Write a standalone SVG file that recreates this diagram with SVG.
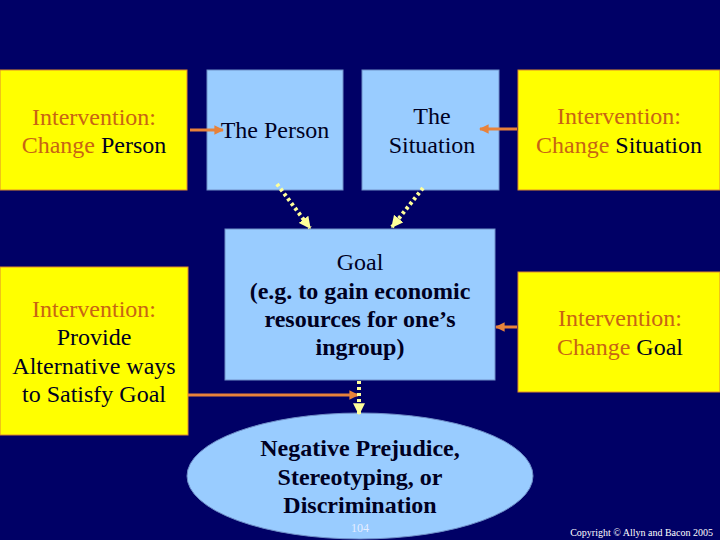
<svg xmlns="http://www.w3.org/2000/svg" width="720" height="540" viewBox="0 0 720 540" font-family="Liberation Serif, DejaVu Serif, serif">
<defs>
<style>
.bg{fill:#000066}
.yb{fill:#FFFF00;stroke:#E08A2C;stroke-width:1}
.bb{fill:#99CCFF;stroke:#6F8FC8;stroke-width:1}
.t{font-family:'Liberation Serif','DejaVu Serif',serif;font-size:24px;text-anchor:middle;fill:#000022}
.or{fill:#C86414}
.bold{font-weight:bold}
.oline{stroke:#E8823A;stroke-width:3;fill:none}
.dline{stroke:#FFFF99;stroke-width:4;stroke-dasharray:3 3;fill:none}
</style>
<marker id="oa" viewBox="0 0 10 10" refX="9" refY="5" markerWidth="3.2" markerHeight="3.2" orient="auto" markerUnits="strokeWidth">
<path d="M0,0 L10,5 L0,10 z" fill="#E8823A"/>
</marker>
<marker id="da" viewBox="0 0 10 10" refX="9" refY="5" markerWidth="3" markerHeight="3" orient="auto" markerUnits="strokeWidth">
<path d="M0,0 L10,5 L0,10 z" fill="#FFFF99"/>
</marker>
</defs>
<rect class="bg" x="0" y="0" width="720" height="540"/>

<g id="changePerson">
<rect class="yb" x="0" y="70" width="187" height="120"/>
<text class="t or" x="94" y="125">Intervention:</text>
<text class="t" x="94" y="153"><tspan class="or">Change</tspan> Person</text>
</g>

<g id="person">
<rect class="bb" x="207" y="70" width="136" height="120"/>
<text class="t" x="275" y="138">The Person</text>
</g>

<g id="situation">
<rect class="bb" x="362" y="70" width="137" height="120"/>
<text class="t" x="432" y="124">The</text>
<text class="t" x="432" y="153">Situation</text>
</g>

<g id="changeSituation">
<rect class="yb" x="518" y="70" width="202" height="120"/>
<text class="t or" x="619" y="124">Intervention:</text>
<text class="t" x="619" y="153"><tspan class="or">Change</tspan> Situation</text>
</g>

<g id="goal">
<rect class="bb" x="225" y="229" width="270" height="151"/>
<text class="t" x="360" y="270">Goal</text>
<text class="t bold" x="360" y="299">(e.g. to gain economic</text>
<text class="t bold" x="360" y="327">resources for one’s</text>
<text class="t bold" x="360" y="355">ingroup)</text>
</g>

<g id="alternative">
<rect class="yb" x="0" y="267" width="188" height="168"/>
<text class="t or" x="94" y="317">Intervention:</text>
<text class="t" x="94" y="345">Provide</text>
<text class="t" x="94" y="374">Alternative ways</text>
<text class="t" x="94" y="402">to Satisfy Goal</text>
</g>

<g id="changeGoal">
<rect class="yb" x="518" y="272" width="202" height="120"/>
<text class="t or" x="620" y="326">Intervention:</text>
<text class="t" x="620" y="355"><tspan class="or">Change</tspan> Goal</text>
</g>

<g id="outcome">
<ellipse cx="360" cy="476" rx="173" ry="63" fill="#99CCFF" stroke="#6F8FC8" stroke-width="1"/>
<text class="t bold" x="360" y="456">Negative Prejudice,</text>
<text class="t bold" x="360" y="485">Stereotyping, or</text>
<text class="t bold" x="360" y="513">Discrimination</text>
</g>

<g id="connectors">
<line class="oline" x1="190" y1="130" x2="223" y2="130" marker-end="url(#oa)"/>
<line class="oline" x1="517" y1="129" x2="480" y2="129" marker-end="url(#oa)"/>
<line class="oline" x1="517" y1="327" x2="496" y2="327" marker-end="url(#oa)"/>
<line class="oline" x1="188" y1="395" x2="358" y2="395" marker-end="url(#oa)"/>
<line class="dline" x1="277" y1="184" x2="310" y2="228" marker-end="url(#da)"/>
<line class="dline" x1="423" y1="188" x2="392" y2="227" marker-end="url(#da)"/>
<line class="dline" x1="359" y1="381" x2="359" y2="414" marker-end="url(#da)"/>
</g>

<text class="t" x="360" y="532" style="font-size:12px;fill:#E6EEFF">104</text>
<text class="t" x="713" y="536" style="font-size:10px;fill:#FFFFFF;text-anchor:end">Copyright © Allyn and Bacon 2005</text>
</svg>
